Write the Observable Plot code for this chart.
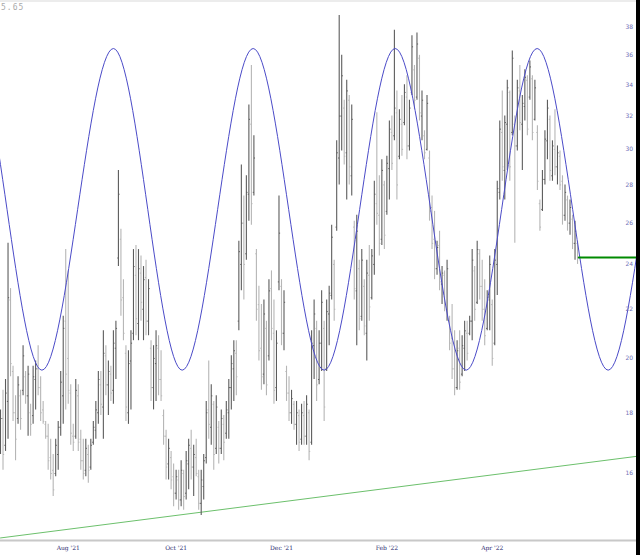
<!DOCTYPE html>
<html><head><meta charset="utf-8">
<script src="https://cdn.jsdelivr.net/npm/d3@7"></script>
<script src="https://cdn.jsdelivr.net/npm/@observablehq/plot@0.6"></script>
<style>
body{margin:0;background:#fff;}
#wrap{position:relative;width:640px;height:555px;overflow:hidden;background:#fff}
#strip{position:absolute;left:636px;top:0;width:4px;height:555px;background:#000}
#topband{position:absolute;left:0;top:0;width:636px;height:2px;background:#ececec}
#corner{position:absolute;left:1px;top:3px;font:8px "DejaVu Sans Mono",monospace;color:#aaa;letter-spacing:1px}
</style>
</head><body>
<div id="wrap"><div id="topband"></div><div id="corner">5.65</div></div>
<script>
const highs = [
18.1,18.8,19.2,25.0,22.9,19.7,18.6,19.3,18.8,20.5,
19.5,19.7,18.3,19.7,19.9,20.5,19.3,18.4,17.7,17.6,
17.1,16.6,17.1,17.7,19.5,21.7,24.7,23.7,19.0,17.6,
19.2,19.0,17.4,17.1,17.1,16.9,17.1,17.7,18.4,19.5,
19.5,21.1,20.5,19.9,19.7,21.1,21.5,28.8,25.7,23.3,
20.5,20.3,21.1,24.7,24.9,24.7,24.4,23.9,24.2,23.3,
20.7,20.5,21.1,20.9,20.3,18.1,17.4,17.1,16.7,16.3,
16.1,16.1,16.4,16.1,16.7,17.1,17.4,16.9,17.1,16.1,
16.1,16.6,18.4,19.9,19.0,18.4,18.6,17.7,18.1,17.9,
18.4,19.2,20.1,20.7,20.7,25.1,29.1,27.4,28.5,32.7,
35.3,30.8,24.7,23.0,22.2,22.4,21.5,23.3,23.7,22.4,
21.1,27.4,23.3,22.8,19.7,19.3,18.8,18.4,18.4,18.1,
18.3,18.4,18.6,18.1,21.1,22.4,21.5,21.1,22.8,21.5,
22.4,23.0,25.9,24.2,30.5,38.9,36.0,33.0,34.3,33.3,
32.7,26.1,26.4,24.2,24.7,23.3,24.2,24.9,24.7,28.2,
32.2,28.5,29.4,28.2,29.6,31.7,32.0,37.8,33.6,32.4,
33.3,34.0,34.6,33.0,37.4,35.3,37.6,36.0,33.6,31.1,
33.3,29.9,27.4,26.6,25.1,25.6,23.9,23.7,24.2,21.7,
22.2,21.1,20.7,21.1,20.9,21.5,21.5,21.7,24.7,23.9,
25.1,24.7,24.2,23.3,22.8,24.4,22.4,24.7,28.2,31.7,
33.6,32.0,34.3,33.6,36.3,32.0,34.3,35.3,33.3,35.0,
34.6,35.6,34.6,34.3,31.4,27.2,28.8,31.1,33.0,32.0,
30.5,32.4,30.2,29.9,28.5,28.0,27.4,27.2,26.4,26.1,
25.1];
const lows = [
16.6,16.1,16.7,17.1,19.3,17.7,16.4,17.6,17.4,18.6,
18.3,17.2,17.2,17.6,18.1,18.6,17.7,17.6,17.1,16.1,
15.8,15.3,15.9,16.1,17.2,17.6,18.1,18.3,16.9,16.7,
17.1,16.7,16.1,15.8,15.9,15.7,16.1,16.9,17.1,17.6,
17.9,17.1,18.6,17.9,18.4,18.3,19.2,23.9,21.7,20.7,
17.7,17.6,18.1,20.7,20.9,20.7,21.5,20.7,20.9,20.9,
18.4,18.1,18.4,18.6,18.4,16.9,15.8,15.8,15.5,15.0,
15.2,14.9,15.0,14.9,15.2,15.5,15.8,15.3,15.9,14.9,
14.75,15.2,16.3,17.1,16.9,16.1,16.6,16.3,16.6,16.4,
17.1,17.1,18.1,18.4,18.6,21.1,22.8,22.4,24.2,26.1,
25.9,27.4,21.5,19.9,18.8,19.0,18.6,19.9,20.7,18.3,
18.4,22.8,20.5,20.3,18.4,17.7,17.6,17.4,16.9,16.7,
16.9,16.9,16.9,16.4,16.9,19.2,18.4,19.0,19.5,17.7,
19.5,20.5,22.4,21.5,25.6,28.0,29.9,29.1,27.2,28.0,
27.4,22.4,20.5,21.1,21.5,20.9,19.9,21.5,22.4,23.5,
25.9,24.4,24.9,24.7,26.4,27.2,28.8,30.5,27.2,29.4,
29.6,31.4,29.4,29.9,33.3,32.4,33.0,31.7,30.5,29.4,
29.9,26.1,24.7,23.3,23.5,22.8,22.2,21.9,21.5,20.3,
19.2,18.6,18.8,18.8,19.3,19.5,19.9,20.9,20.7,21.5,
22.2,22.4,21.5,20.5,21.1,21.1,19.7,20.5,22.6,27.2,
28.2,27.2,28.8,28.2,30.8,25.0,29.9,31.1,28.8,31.7,
30.8,33.0,30.5,31.7,27.7,25.6,26.6,28.0,29.4,28.2,
28.2,28.5,28.0,27.7,25.9,26.1,25.6,25.4,24.7,24.2,
24.0];
const opens = [
17.0,17.8,16.9,18.4,22.4,19.5,18.0,17.8,18.6,18.8,
19.3,18.6,18.0,17.9,19.2,19.6,18.9,18.1,17.6,17.2,
16.5,16.1,16.0,16.6,17.5,18.6,21.5,20.0,18.7,17.2,
17.2,18.6,17.1,16.4,16.1,16.6,16.2,17.0,17.4,18.0,
19.0,18.2,20.1,19.0,19.4,18.8,20.4,24.3,25.2,22.5,
20.2,18.0,19.9,21.0,23.5,21.4,23.6,22.0,23.4,21.5,
20.4,18.9,19.8,20.4,19.2,17.9,17.2,16.3,16.5,15.9,
15.4,15.8,15.2,16.0,15.4,16.3,16.8,16.2,16.5,15.9,
15.1,15.6,16.5,18.1,17.5,18.3,16.8,17.5,16.8,17.6,
17.3,18.0,18.9,19.6,20.2,21.5,24.0,26.0,24.5,27.5,
31.5,27.6,24.5,22.2,20.4,19.4,21.2,20.1,22.9,21.0,
18.9,23.2,23.0,21.0,19.5,18.7,18.0,18.3,17.6,17.9,
17.1,17.9,17.2,18.0,17.0,20.5,21.2,19.2,20.6,21.2,
19.6,21.8,22.6,24.0,25.8,29.5,32.0,32.5,29.8,33.0,
28.5,25.8,22.8,23.8,21.7,23.0,21.0,23.5,22.5,24.0,
27.0,26.4,25.2,28.0,26.6,28.9,31.0,30.8,32.2,29.6,
31.5,31.6,33.2,30.2,33.5,35.0,33.2,35.8,32.0,30.8,
30.0,29.5,26.8,25.2,23.8,24.9,23.1,23.5,22.0,21.5,
20.8,19.6,18.9,20.4,19.4,20.4,21.0,21.0,21.5,23.7,
22.3,24.5,23.0,22.0,21.2,22.4,22.2,20.6,24.0,27.6,
31.0,28.8,31.5,33.5,31.0,31.5,30.2,33.6,31.5,32.6,
34.3,33.2,34.4,31.8,31.0,27.0,26.7,28.3,30.5,31.8,
28.5,30.0,29.0,29.6,28.2,26.4,27.2,26.0,26.2,25.0,
25.0];
const closes = [
17.8,16.6,18.7,22.5,19.8,18.0,17.1,19.0,17.8,20.1,
18.6,19.4,17.6,19.3,19.6,18.9,18.0,17.7,17.2,16.4,
16.0,15.5,16.9,17.5,19.1,21.2,19.4,18.8,17.3,17.0,
18.8,17.0,16.4,16.0,16.8,16.1,16.9,17.5,18.1,19.2,
18.3,20.2,19.0,19.5,18.7,20.6,21.2,27.5,22.4,21.0,
18.2,19.8,20.6,23.9,21.6,23.8,22.3,23.3,21.5,22.9,
18.9,20.0,20.5,19.2,18.6,17.2,16.2,16.8,15.8,15.4,
15.9,15.2,16.1,15.3,16.4,16.9,16.2,16.6,16.0,15.1,
15.8,16.4,18.0,17.6,18.6,16.6,18.2,16.8,17.8,17.0,
18.1,18.9,19.8,20.3,19.3,24.6,26.0,24.0,27.6,31.8,
27.0,29.5,22.0,20.3,19.3,21.8,19.0,22.8,21.2,18.8,
20.6,25.5,21.0,22.3,18.7,18.0,18.5,17.6,18.0,17.0,
18.0,17.2,18.3,16.7,20.6,21.8,19.0,20.6,22.3,18.2,
21.9,22.7,25.3,22.0,29.8,32.0,34.6,29.6,33.6,29.0,
31.8,22.9,25.6,21.6,24.2,21.3,23.6,22.1,24.4,27.5,
26.5,25.0,28.8,25.4,29.2,31.2,29.2,32.5,28.0,31.8,
30.0,33.5,30.2,32.5,36.6,33.0,36.8,32.2,33.0,29.8,
32.8,26.6,25.0,23.8,24.8,23.2,23.6,22.2,23.8,20.6,
19.6,18.9,20.3,19.1,20.5,21.1,20.2,21.5,24.2,22.0,
24.7,23.0,22.0,20.9,22.5,24.0,20.0,24.2,27.8,31.2,
29.0,31.6,33.8,29.0,35.8,30.2,33.8,31.6,32.8,34.5,
31.2,35.2,31.0,33.8,28.2,25.8,28.3,30.6,32.5,28.8,
30.2,29.0,29.8,28.0,26.4,27.6,26.0,26.8,25.0,25.6,
24.3];

// x axis: trading-day index of first session of each labelled month
const xTickIdx = [27, 70, 112, 154, 196];
const xTickLabels = ["Aug '21", "Oct '21", "Dec '21", "Feb '22", "Apr '22"];
const yTicks = [16, 18, 20, 22, 24, 26, 28, 30, 32, 34, 36, 38];
const xDomain = [0, 253.5];
const yDomain = [14.05, 40.04];

// cycle line extrema (bar index), incl. ones just beyond the frame
const sinePeakIdx = [-11.3, 45.0, 100.7, 157.3, 213.9, 270.5];
const sineTroughIdx = [-39.6, 16.5, 72.4, 129.0, 185.6, 242.2, 298.8];
const sinePeakValue = 36.48;
const sineTroughValue = 19.55;

// trend line and horizontal level
const trendIdx = [0, 253.5];
const trendValue = [14.12, 16.54];
const levelIdx = [230.5, 253.5];
const levelValue = 24.32;

const bars = highs.map((h, i) => ({i, high: h, low: lows[i], open: opens[i], close: closes[i],
  up: closes[i] >= opens[i]}));
const sine = [
  ...sinePeakIdx.map(i => ({i, v: sinePeakValue})),
  ...sineTroughIdx.map(i => ({i, v: sineTroughValue}))
].sort((a, b) => a.i - b.i);
const trend = trendIdx.map((i, k) => ({i, v: trendValue[k]}));
const level = levelIdx.map(i => ({i, v: levelValue}));
const labelMap = new Map(xTickIdx.map((d, k) => [d, xTickLabels[k]]));
const barColor = d => d.up ? "#5c5c5c" : "#b6b6b6";

const chart = Plot.plot({
  width: 640, height: 555,
  marginLeft: 0, marginRight: 4, marginTop: 0, marginBottom: 15,
  x: {domain: xDomain, axis: null, label: null},
  y: {type: "log", domain: yDomain, axis: null, label: null},
  style: {background: "transparent"},
  marks: [
    Plot.ruleY([yDomain[0]], {stroke: "#c8c8c8", strokeWidth: 2}),
    Plot.line(trend, {x: "i", y: "v", stroke: "#6cc06c", strokeWidth: 1, clip: true}),
    Plot.ruleX(bars, {x: "i", y1: "low", y2: "high", stroke: barColor, strokeWidth: 1.1}),
    Plot.link(bars, {x1: d => d.i - 0.45, x2: "i", y1: "open", y2: "open", stroke: barColor, strokeWidth: 1}),
    Plot.link(bars, {x1: "i", x2: d => d.i + 0.45, y1: "close", y2: "close", stroke: barColor, strokeWidth: 1}),
    Plot.line(sine, {x: "i", y: "v", curve: "monotone-x", stroke: "#4b4bc8", strokeWidth: 1, clip: true}),
    Plot.line(level, {x: "i", y: "v", stroke: "#008a00", strokeWidth: 2}),
    Plot.axisY(yTicks, {anchor: "right", tickSize: 0, tickPadding: 0, dx: -11, fill: "#6f6fb8",
      fontSize: 6, fontFamily: "DejaVu Sans", label: null, tickFormat: d => String(d)}),
    Plot.axisX(xTickIdx, {anchor: "bottom", tickSize: 0, tickPadding: 5, fill: "#2e2e70",
      fontSize: 6, fontFamily: "DejaVu Serif", label: null, tickFormat: d => labelMap.get(d)})
  ]
});
const wrap = document.getElementById("wrap");
wrap.insertBefore(chart, wrap.firstChild);
chart.style.position = "absolute";
chart.style.left = "0px";
chart.style.top = "0px";
const strip = document.createElement("div");
strip.id = "strip";
wrap.appendChild(strip);
</script>
</body></html>
